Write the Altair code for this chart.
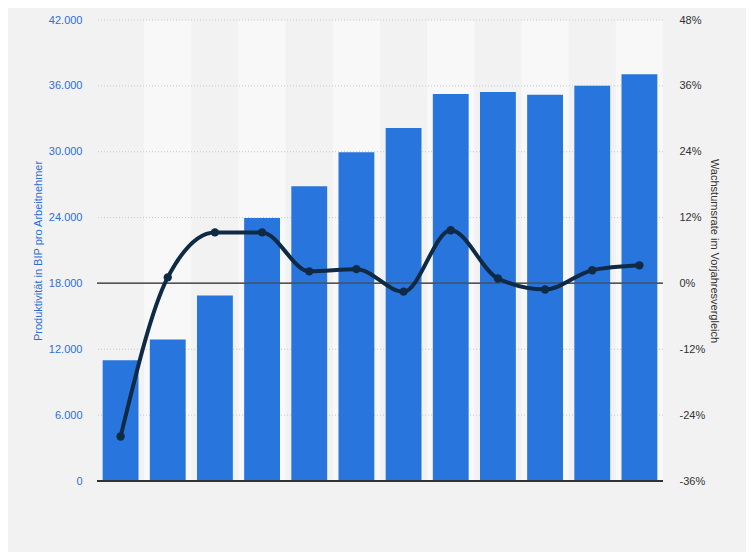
import altair as alt
import pandas as pd

categories = ["1", "2", "3", "4", "5", "6", "7", "8", "9", "10", "11", "12"]
productivity = [11000, 12900, 16900, 23950, 26850, 29950, 32150, 35250, 35450, 35200, 36000, 37050]
growth = [-27.9, 1.1, 9.3, 9.3, 2.2, 2.6, -1.5, 9.7, 0.9, -1.1, 2.4, 3.3]
left_ticks = [0, 6000, 12000, 18000, 24000, 30000, 36000, 42000]
right_ticks = [-36, -24, -12, 0, 12, 24, 36, 48]

df = pd.DataFrame({
    "cat": categories,
    "prod": productivity,
    "growth": growth,
    "shade": [i % 2 == 1 for i in range(len(categories))],
})
grid_df = pd.DataFrame({"v": left_ticks[1:]})

FONT = "Liberation Sans"
BLUE = "#2876dd"
NAVY = "#0f2a45"

xenc = alt.X("cat:N", sort=categories, axis=None,
             scale=alt.Scale(paddingInner=0, paddingOuter=0))
yleft = alt.Scale(domain=[0, 42000], nice=False, zero=True)
yright = alt.Scale(domain=[-36, 48], nice=False, zero=False)

left_axis = alt.Axis(values=left_ticks, title="Produktivität in BIP pro Arbeitnehmer",
                     labelExpr="replace(format(datum.value, ','), ',', '.')",
                     labelColor="#2e6fd6", titleColor="#2e6fd6",
                     labelFont=FONT, titleFont=FONT, labelFontSize=11, titleFontSize=11,
                     titleFontWeight="normal", labelPadding=15, titlePadding=5,
                     ticks=False, domain=False, grid=False)
right_axis = alt.Axis(values=right_ticks, orient="right", title="Wachstumsrate im Vorjahresvergleich",
                      labelExpr="datum.value + '%'",
                      labelColor="#333333", titleColor="#333333",
                      labelFont=FONT, titleFont=FONT, labelFontSize=11, titleFontSize=11,
                      titleFontWeight="normal", labelPadding=16, titlePadding=4,
                      ticks=False, domain=False, grid=False)

bands = alt.Chart(df).transform_filter("datum.shade").transform_calculate(
    top="42000", bottom="0"
).mark_bar(color="#f8f8f8", width=alt.RelativeBandSize(1)).encode(
    x=xenc, y=alt.Y("top:Q", scale=yleft, axis=left_axis), y2="bottom:Q"
)

grid = alt.Chart(grid_df).mark_rule(color="#c8c8c8", strokeDash=[1, 2], strokeWidth=1).encode(
    y=alt.Y("v:Q", scale=yleft, axis=left_axis)
)

bars = alt.Chart(df).mark_bar(color=BLUE, width=alt.RelativeBandSize(0.76)).encode(
    x=xenc,
    y=alt.Y("prod:Q", scale=yleft, axis=left_axis),
)

baseline = alt.Chart(df).mark_rule(color="#333333", strokeWidth=1.5).encode(
    y=alt.datum(0, scale=yleft, axis=left_axis)
)

left = alt.layer(bands, grid, bars, baseline)

zero = alt.Chart(df).mark_rule(color="#555555", strokeWidth=1).encode(
    y=alt.datum(0, scale=yright, axis=right_axis)
)

line = alt.Chart(df).mark_line(color=NAVY, strokeWidth=4, interpolate="monotone").encode(
    x=xenc, y=alt.Y("growth:Q", scale=yright, axis=right_axis)
)
pts = alt.Chart(df).mark_point(color=NAVY, filled=True, size=70, opacity=1).encode(
    x=xenc, y=alt.Y("growth:Q", scale=yright, axis=right_axis)
)

right = alt.layer(zero, line, pts)

chart = alt.layer(left, right).resolve_scale(y="independent").properties(
    width=566, height=461,
    autosize=alt.AutoSizeParams(type="none"),
    padding={"left": 89, "top": 12, "right": 83, "bottom": 71},
    background="#f2f2f2",
).configure_view(stroke=None, fill="#f2f2f2")

chart.save("out.html", embed_options={"renderer": "svg", "actions": False})
